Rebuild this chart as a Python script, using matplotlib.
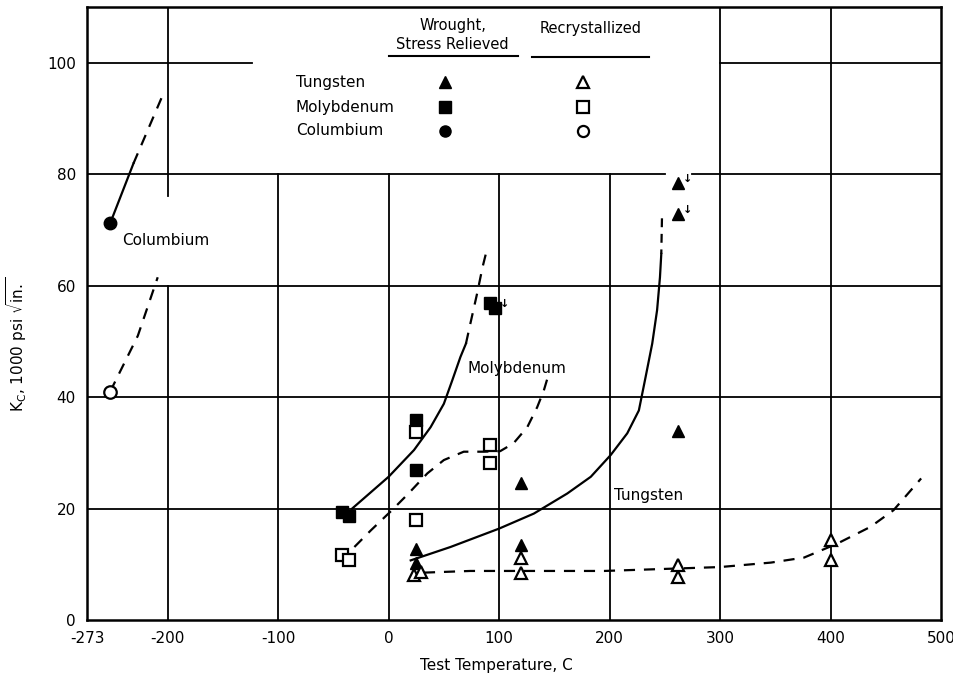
import matplotlib
matplotlib.use("Agg")
import matplotlib.pyplot as plt

plt.rcParams['font.family'] = ['DejaVu Sans']

# --- data (temperature C, Kc 1000 psi sqrt(in)) ---
# wrought, stress relieved (filled markers)
w_wr_x = [25, 25, 120, 120, 262, 262, 262]
w_wr_y = [12.8, 10.2, 24.5, 13.4, 34.0, 78.4, 72.9]
mo_wr_x = [-42, -36, 25, 25, 92, 96]
mo_wr_y = [19.4, 18.6, 35.8, 26.9, 56.8, 55.9]
cb_wr_x = [-252]
cb_wr_y = [71.2]

# recrystallized (open markers)
w_rx_x = [23, 29, 120, 120, 262, 262, 400, 400]
w_rx_y = [8.1, 8.7, 11.1, 8.4, 9.9, 7.8, 14.3, 10.7]
mo_rx_x = [-42, -36, 25, 25, 92, 92]
mo_rx_y = [11.6, 10.8, 33.7, 17.9, 31.4, 28.1]
cb_rx_x = [-252]
cb_rx_y = [41.0]

# points marked with a "greater than" arrow
arrow_x = [262, 262, 96]
arrow_y = [78.4, 72.9, 55.9]

# trend curves
cb_solid_x = [-252, -231]
cb_solid_y = [71.2, 81.9]
cb_solid_ext_x = [-231, -204]
cb_solid_ext_y = [81.9, 94.4]
cb_open_x = [-252, -227, -209]
cb_open_y = [41.0, 51.0, 61.5]

mo_solid_x = [-33, 0, 23, 38, 50, 57.6, 65, 70]
mo_solid_y = [20.0, 25.7, 30.5, 34.6, 38.8, 43.0, 47.2, 49.6]
mo_solid_ext_x = [70, 74, 80, 85, 88]
mo_solid_ext_y = [49.6, 53.2, 58.5, 63.3, 65.7]
mo_open_x = [-31, -16, 3, 18, 35, 50, 68, 86, 101, 113, 125.5, 134.5, 140.5, 145]
mo_open_y = [13.1, 16.1, 19.7, 22.7, 26.3, 28.7, 30.2, 30.2, 30.3, 31.7, 34.6, 38.2, 41.2, 44.2]

w_solid_x = [20, 56, 100, 131.5, 161.7, 183, 201, 216, 226.5, 232.6, 238.6, 243, 245.6, 246.8]
w_solid_y = [10.7, 13.1, 16.4, 19.1, 22.7, 25.7, 29.6, 33.5, 37.6, 43.6, 49.6, 55.6, 61.5, 65.7]
w_solid_ext_x = [246.8, 247.5]
w_solid_ext_y = [65.7, 73.0]
w_open_x = [32, 74, 195, 300, 346, 376, 406, 436, 457, 482]
w_open_y = [8.5, 8.8, 8.8, 9.5, 10.3, 11.2, 13.7, 16.7, 19.7, 25.4]

xticks = [-273, -200, -100, 0, 100, 200, 300, 400, 500]
yticks = [0, 20, 40, 60, 80, 100]

fig = plt.figure(figsize=(9.54, 6.79), dpi=100)
ax = fig.add_axes([0.0912, 0.0869, 0.8952, 0.9028])
ax.set_xlim(-273, 500)
ax.set_ylim(0, 110)

# grid drawn by hand because the legend area is left blank
gkw = dict(color='black', lw=1.3, zorder=1)
for gx in [-100, 0, 100, 200]:
    ax.plot([gx, gx], [0, 80], **gkw)
ax.plot([-200, -200], [0, 60], **gkw)
ax.plot([-200, -200], [76, 110], **gkw)
for gx in [300, 400]:
    ax.plot([gx, gx], [0, 110], **gkw)
for gy in [20, 40, 60]:
    ax.plot([-273, 500], [gy, gy], **gkw)
ax.plot([-273, 250], [80, 80], **gkw)
ax.plot([275, 500], [80, 80], **gkw)
ax.plot([-273, -124], [100, 100], **gkw)
ax.plot([300, 500], [100, 100], **gkw)

# curves
lkw = dict(color='black', lw=1.6, zorder=2, solid_joinstyle='round')
dkw = dict(color='black', lw=1.6, ls=(0, (5, 4)), zorder=2)
ax.plot(cb_solid_x, cb_solid_y, **lkw)
ax.plot(cb_solid_ext_x, cb_solid_ext_y, **dkw)
ax.plot(cb_open_x, cb_open_y, **dkw)
ax.plot(mo_solid_x, mo_solid_y, **lkw)
ax.plot(mo_solid_ext_x, mo_solid_ext_y, **dkw)
ax.plot(mo_open_x, mo_open_y, **dkw)
ax.plot(w_solid_x, w_solid_y, **lkw)
ax.plot(w_solid_ext_x, w_solid_ext_y, color='black', lw=1.6, ls=(2, (4, 3)), zorder=2)
ax.plot(w_open_x, w_open_y, **dkw)

# markers
ms = 9
ax.plot(w_wr_x, w_wr_y, '^', color='black', ms=ms, ls='none', zorder=3)
ax.plot(mo_wr_x, mo_wr_y, 's', color='black', ms=ms, ls='none', zorder=3)
ax.plot(cb_wr_x, cb_wr_y, 'o', color='black', ms=ms, ls='none', zorder=3)
okw = dict(mfc='white', mec='black', mew=1.6, ms=ms, ls='none', zorder=3)
ax.plot(w_rx_x, w_rx_y, '^', **okw)
ax.plot(mo_rx_x, mo_rx_y, 's', **okw)
ax.plot(cb_rx_x, cb_rx_y, 'o', **okw)
for xa, ya in zip(arrow_x, arrow_y):
    ax.annotate('↓', (xa, ya), xytext=(7, 3), textcoords='offset points',
                fontsize=8, fontweight='bold', ha='center', va='center')

# curve labels
ax.text(-241, 68.1, 'Columbium', fontsize=11, va='center', ha='left')
ax.text(71, 45.2, 'Molybdenum', fontsize=11, va='center', ha='left')
ax.text(204, 22.3, 'Tungsten', fontsize=11, va='center', ha='left')

# legend drawn inside the blank area
ax.text(58, 106.6, 'Wrought,', fontsize=10.5, ha='center', va='center')
ax.text(58, 103.2, 'Stress Relieved', fontsize=10.5, ha='center', va='center')
ax.plot([0, 117], [101.2, 101.2], color='black', lw=1.5)
ax.text(183, 106.2, 'Recrystallized', fontsize=10.5, ha='center', va='center')
ax.plot([130, 236], [101.1, 101.1], color='black', lw=1.5)
leg_names = ['Tungsten', 'Molybdenum', 'Columbium']
leg_marks = ['^', 's', 'o']
leg_y = [96.5, 92.0, 87.8]
for name, mk, ly in zip(leg_names, leg_marks, leg_y):
    ax.text(-84, ly, name, fontsize=11, ha='left', va='center')
    ax.plot([51], [ly], mk, color='black', ms=8)
    ax.plot([176], [ly], mk, mfc='white', mec='black', mew=1.6, ms=8)

ax.set_xticks(xticks)
ax.set_yticks(yticks)
ax.set_xticklabels([str(t) for t in xticks])
ax.tick_params(length=0, labelsize=11, pad=8)
for s in ax.spines.values():
    s.set_linewidth(1.8)

ax.set_xlabel('Test Temperature, C', fontsize=11)
ax.set_ylabel(r'K$_{\rm C}$, 1000 psi $\sqrt{\rm in.}$', fontsize=11)
ax.xaxis.set_label_coords(0.479, -0.062)
ax.yaxis.set_label_coords(-0.068, 0.45)

fig.savefig('out.png', dpi=100)
